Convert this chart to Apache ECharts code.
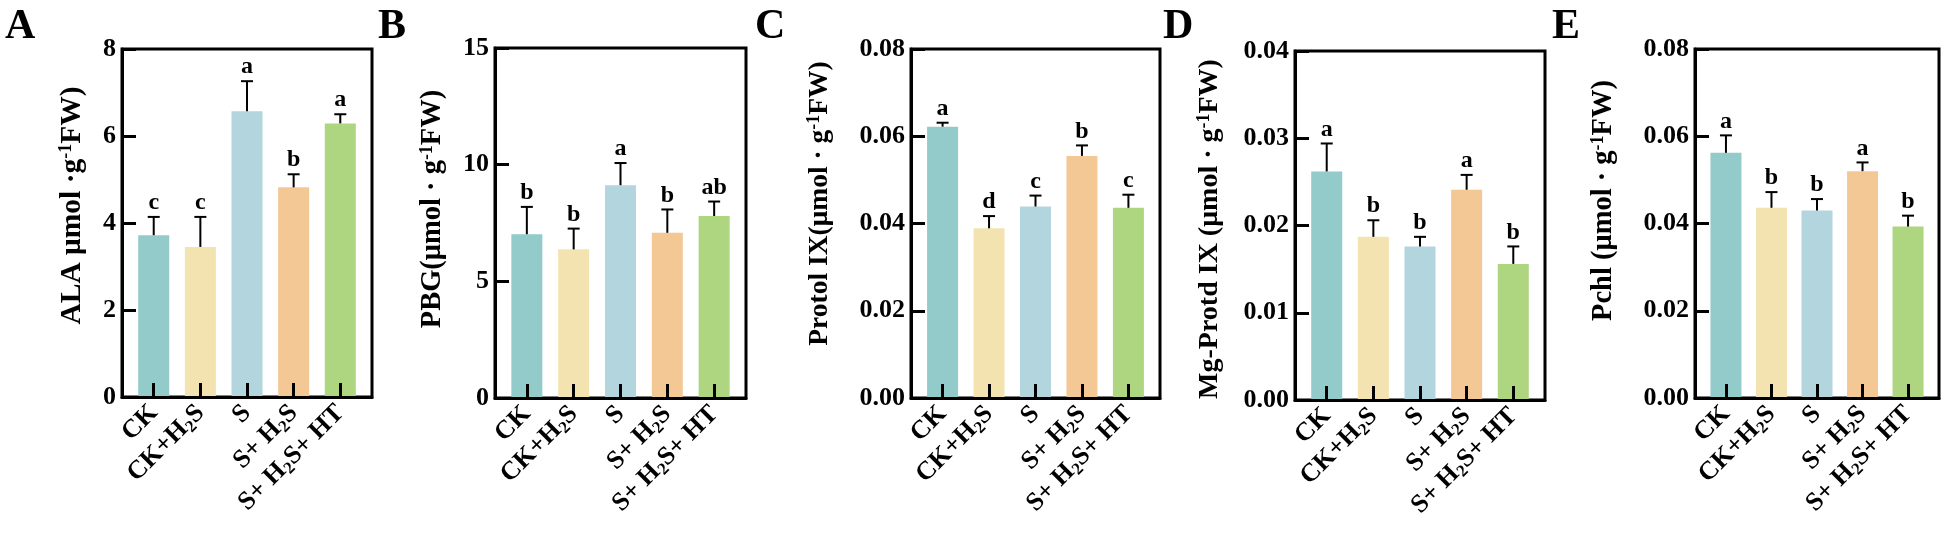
<!DOCTYPE html>
<html>
<head>
<meta charset="utf-8">
<script src="https://cdn.jsdelivr.net/npm/echarts@6/dist/echarts.min.js"></script>
<style>
html,body{margin:0;padding:0;background:#fff;}
#c{width:1949px;height:556px;}
</style>
</head>
<body>
<div id="c"></div>
<script>
// ---- data ----
const categories = ['CK', 'CK+H{sub|2}S', 'S', 'S+ H{sub|2}S', 'S+ H{sub|2}S+ HT'];
const barColors = ['#92CBC9', '#F3E3B1', '#B3D5DE', '#F4C895', '#AED57F'];

const alaMean = [3.72, 3.45, 6.57, 4.82, 6.29];
const alaSd = [0.42, 0.69, 0.69, 0.30, 0.21];
const alaSig = ['c', 'c', 'a', 'b', 'a'];

const pbgMean = [7.02, 6.37, 9.12, 7.08, 7.80];
const pbgSd = [1.17, 0.89, 0.95, 1.00, 0.62];
const pbgSig = ['b', 'b', 'a', 'b', 'ab'];

const protoMean = [0.0622, 0.0389, 0.0439, 0.0555, 0.0436];
const protoSd = [0.0009, 0.0028, 0.0025, 0.0024, 0.0030];
const protoSig = ['a', 'd', 'c', 'b', 'c'];

const mgMean = [0.0262, 0.0187, 0.0176, 0.0241, 0.0156];
const mgSd = [0.0032, 0.0019, 0.0011, 0.0017, 0.0020];
const mgSig = ['a', 'b', 'b', 'a', 'b'];

const pchlMean = [0.0562, 0.0436, 0.0430, 0.0520, 0.0393];
const pchlSd = [0.0040, 0.0036, 0.0026, 0.0020, 0.0025];
const pchlSig = ['a', 'b', 'b', 'a', 'b'];

const yTicksA = {max: 8, interval: 2, digits: 0};
const yTicksB = {max: 15, interval: 5, digits: 0};
const yTicksC = {max: 0.08, interval: 0.02, digits: 2};
const yTicksD = {max: 0.04, interval: 0.01, digits: 2};
const yTicksE = {max: 0.08, interval: 0.02, digits: 2};

const panelLetters = ['A', 'B', 'C', 'D', 'E'];
const yNames = [
  'ALA μmol ·g{sup|-1}FW)',
  'PBG(μmol · g{sup|-1}FW)',
  'Protol IX(μmol · g{sup|-1}FW)',
  'Mg-Protd IX (μmol · g{sup|-1}FW)',
  'Pchl (μmol · g{sup|-1}FW)'
];

// ---- layout ----
const FONT = '"Liberation Serif", "Times New Roman", serif';
const grids = [
  {left: 122, top: 49, width: 250, height: 348},
  {left: 495, top: 48, width: 251, height: 350},
  {left: 911, top: 49, width: 249, height: 349},
  {left: 1295, top: 51, width: 250, height: 349},
  {left: 1695, top: 49, width: 244, height: 349}
];
const nameGaps = [35, 47, 76, 70, 76];
const nameSizes = [29.5, 28.5, 27.5, 28, 28.5];
// padding [top, right, bottom, left] in the rotated text frame: left padding moves the name up
const namePads = [[0, 0, 0, 35], [0, 0, 0, 28], [0, 0, 0, 40], [0, 7, 0, 0], [0, 0, 0, 46]];
const letterPos = [[5, 6], [378, 6], [755, 6], [1163, 6], [1552, 6]];

const panels = [
  {mean: alaMean, sd: alaSd, sig: alaSig, ticks: yTicksA},
  {mean: pbgMean, sd: pbgSd, sig: pbgSig, ticks: yTicksB},
  {mean: protoMean, sd: protoSd, sig: protoSig, ticks: yTicksC},
  {mean: mgMean, sd: mgSd, sig: mgSig, ticks: yTicksD},
  {mean: pchlMean, sd: pchlSd, sig: pchlSig, ticks: yTicksE}
];

const catIdx = categories.map((c, i) => i);

const option = {
  animation: false,
  backgroundColor: '#fff',
  grid: grids.map(g => Object.assign({show: true, borderColor: '#000', borderWidth: 3}, g)),
  xAxis: panels.map((p, k) => ({
    type: 'value', gridIndex: k, min: -0.68, max: 4.68, z: 10,
    splitLine: {show: false},
    axisLine: {show: true, onZero: false, lineStyle: {color: '#000', width: 3}},
    axisTick: {show: true, inside: true, length: 14, lineStyle: {color: '#000', width: 3}, customValues: catIdx},
    axisLabel: {
      show: true, customValues: catIdx, rotate: 45, margin: 12,
      fontFamily: FONT, fontWeight: 'bold', fontSize: 26, color: '#000', lineHeight: 30,
      formatter: v => categories[Math.round(v)],
      rich: {sub: {fontFamily: FONT, fontWeight: 'bold', fontSize: 17, color: '#000', verticalAlign: 'bottom', lineHeight: 30}}
    }
  })),
  yAxis: panels.map((p, k) => ({
    type: 'value', gridIndex: k, min: 0, max: p.ticks.max, interval: p.ticks.interval, z: 10,
    splitLine: {show: false},
    axisLine: {show: true, onZero: false, lineStyle: {color: '#000', width: 3}},
    axisTick: {show: true, inside: true, length: 14, lineStyle: {color: '#000', width: 3}},
    axisLabel: {
      margin: 6, fontFamily: FONT, fontWeight: 'bold', fontSize: 26, color: '#000',
      formatter: v => v.toFixed(p.ticks.digits)
    },
    name: yNames[k], nameLocation: 'middle', nameRotate: 90, nameGap: nameGaps[k],
    nameTextStyle: {
      fontFamily: FONT, fontWeight: 'bold', fontSize: nameSizes[k], color: '#000', lineHeight: 30,
      padding: namePads[k],
      rich: {sup: {fontFamily: FONT, fontWeight: 'bold', fontSize: 18, color: '#000', verticalAlign: 'top', lineHeight: 30}}
    }
  })),
  graphic: panelLetters.map((t, k) => ({
    type: 'text', left: letterPos[k][0], top: letterPos[k][1],
    style: {text: t, font: 'bold 42px ' + FONT, fill: '#000'}
  })),
  series: []
};

panels.forEach((p, k) => {
  option.series.push({
    type: 'bar', xAxisIndex: k, yAxisIndex: k, barWidth: 31,
    data: p.mean.map((v, i) => ({value: [i, v], itemStyle: {color: barColors[i]}}))
  });
  option.series.push({
    type: 'custom', xAxisIndex: k, yAxisIndex: k, z: 5,
    data: p.mean.map((v, i) => [i, v, v + p.sd[i]]),
    renderItem: (params, api) => {
      const x = api.value(0), m = api.value(1), u = api.value(2);
      const p0 = api.coord([x, m]), p1 = api.coord([x, u]);
      return {
        type: 'group', children: [
          {type: 'line', shape: {x1: p0[0], y1: p0[1], x2: p1[0], y2: p1[1]}, style: {stroke: '#000', lineWidth: 2}},
          {type: 'line', shape: {x1: p1[0] - 6, y1: p1[1], x2: p1[0] + 6, y2: p1[1]}, style: {stroke: '#000', lineWidth: 2}},
          {type: 'text', style: {text: p.sig[params.dataIndex], x: p1[0], y: p1[1] - 2, textAlign: 'center', textVerticalAlign: 'bottom', font: 'bold 24px ' + FONT, fill: '#000'}}
        ]
      };
    }
  });
});

const chart = echarts.init(document.getElementById('c'), null, {renderer: 'canvas'});
chart.setOption(option);
</script>
</body>
</html>
